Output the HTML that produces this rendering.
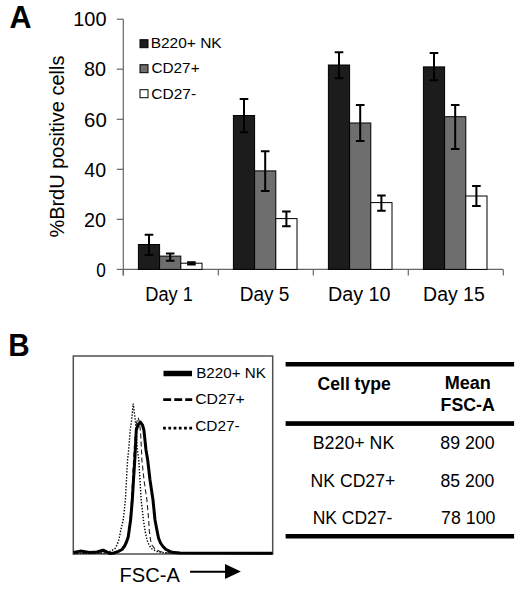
<!DOCTYPE html><html><head><meta charset="utf-8"><style>html,body{margin:0;padding:0;background:#fff;}svg{display:block;}text{font-family:"Liberation Sans",sans-serif;fill:#000;}</style></head><body>
<svg width="520" height="589" viewBox="0 0 520 589">
<rect x="0" y="0" width="520" height="589" fill="#fff"/>
<text x="9.5" y="27.8" font-size="30.5" font-weight="bold">A</text>
<line x1="123.3" y1="19.2" x2="123.3" y2="275.6" stroke="#666" stroke-width="1.2"/>
<line x1="116.8" y1="269.4" x2="123.3" y2="269.4" stroke="#666" stroke-width="1.2"/>
<line x1="116.8" y1="219.4" x2="123.3" y2="219.4" stroke="#666" stroke-width="1.2"/>
<line x1="116.8" y1="169.3" x2="123.3" y2="169.3" stroke="#666" stroke-width="1.2"/>
<line x1="116.8" y1="119.3" x2="123.3" y2="119.3" stroke="#666" stroke-width="1.2"/>
<line x1="116.8" y1="69.2" x2="123.3" y2="69.2" stroke="#666" stroke-width="1.2"/>
<line x1="116.8" y1="19.2" x2="123.3" y2="19.2" stroke="#666" stroke-width="1.2"/>
<line x1="123.3" y1="269.4" x2="503.3" y2="269.4" stroke="#666" stroke-width="1.2"/>
<line x1="123.3" y1="269.4" x2="123.3" y2="275.6" stroke="#666" stroke-width="1.2"/>
<line x1="218.3" y1="269.4" x2="218.3" y2="275.6" stroke="#666" stroke-width="1.2"/>
<line x1="313.3" y1="269.4" x2="313.3" y2="275.6" stroke="#666" stroke-width="1.2"/>
<line x1="408.3" y1="269.4" x2="408.3" y2="275.6" stroke="#666" stroke-width="1.2"/>
<line x1="503.3" y1="269.4" x2="503.3" y2="275.6" stroke="#666" stroke-width="1.2"/>
<text transform="translate(64.2,146.6) rotate(-90)" font-size="19.3" text-anchor="middle" textLength="182" lengthAdjust="spacingAndGlyphs">%BrdU positive cells</text>
<rect x="138.40" y="244.5" width="21.2" height="24.9" fill="#1c1c1c" stroke="#000" stroke-width="1"/>
<rect x="159.60" y="256.1" width="21.2" height="13.3" fill="#6e6e6e" stroke="#000" stroke-width="1"/>
<rect x="180.80" y="263.2" width="21.2" height="6.2" fill="#ffffff" stroke="#000" stroke-width="1"/>
<path d="M149.00 234.8V254.9M144.70 234.8H153.30M144.70 254.9H153.30" stroke="#000" stroke-width="2" fill="none"/>
<path d="M170.20 253.5V260.7M165.90 253.5H174.50M165.90 260.7H174.50" stroke="#000" stroke-width="2" fill="none"/>
<path d="M191.40 262.2V264.6M187.10 262.2H195.70M187.10 264.6H195.70" stroke="#000" stroke-width="2" fill="none"/>
<rect x="233.40" y="115.5" width="21.2" height="153.9" fill="#1c1c1c" stroke="#000" stroke-width="1"/>
<rect x="254.60" y="170.9" width="21.2" height="98.5" fill="#6e6e6e" stroke="#000" stroke-width="1"/>
<rect x="275.80" y="218.6" width="21.2" height="50.8" fill="#ffffff" stroke="#000" stroke-width="1"/>
<path d="M244.00 98.9V132.3M239.70 98.9H248.30M239.70 132.3H248.30" stroke="#000" stroke-width="2" fill="none"/>
<path d="M265.20 151.3V191.0M260.90 151.3H269.50M260.90 191.0H269.50" stroke="#000" stroke-width="2" fill="none"/>
<path d="M286.40 211.5V226.2M282.10 211.5H290.70M282.10 226.2H290.70" stroke="#000" stroke-width="2" fill="none"/>
<rect x="328.40" y="65.0" width="21.2" height="204.4" fill="#1c1c1c" stroke="#000" stroke-width="1"/>
<rect x="349.60" y="123.0" width="21.2" height="146.4" fill="#6e6e6e" stroke="#000" stroke-width="1"/>
<rect x="370.80" y="202.6" width="21.2" height="66.8" fill="#ffffff" stroke="#000" stroke-width="1"/>
<path d="M339.00 52.2V78.2M334.70 52.2H343.30M334.70 78.2H343.30" stroke="#000" stroke-width="2" fill="none"/>
<path d="M360.20 104.9V141.0M355.90 104.9H364.50M355.90 141.0H364.50" stroke="#000" stroke-width="2" fill="none"/>
<path d="M381.40 195.4V210.8M377.10 195.4H385.70M377.10 210.8H385.70" stroke="#000" stroke-width="2" fill="none"/>
<rect x="423.40" y="66.9" width="21.2" height="202.5" fill="#1c1c1c" stroke="#000" stroke-width="1"/>
<rect x="444.60" y="116.7" width="21.2" height="152.7" fill="#6e6e6e" stroke="#000" stroke-width="1"/>
<rect x="465.80" y="196.0" width="21.2" height="73.4" fill="#ffffff" stroke="#000" stroke-width="1"/>
<path d="M434.00 53.1V80.3M429.70 53.1H438.30M429.70 80.3H438.30" stroke="#000" stroke-width="2" fill="none"/>
<path d="M455.20 104.9V148.9M450.90 104.9H459.50M450.90 148.9H459.50" stroke="#000" stroke-width="2" fill="none"/>
<path d="M476.40 185.9V205.9M472.10 185.9H480.70M472.10 205.9H480.70" stroke="#000" stroke-width="2" fill="none"/>
<rect x="140" y="39.7" width="8" height="8" fill="#1c1c1c" stroke="#000" stroke-width="1"/>
<rect x="140" y="64.7" width="8" height="8" fill="#6e6e6e" stroke="#000" stroke-width="1"/>
<rect x="140" y="89.7" width="8" height="8" fill="#ffffff" stroke="#000" stroke-width="1"/>
<text x="8.3" y="355.8" font-size="30.6" font-weight="bold" textLength="21.4" lengthAdjust="spacingAndGlyphs">B</text>
<rect x="73.3" y="356" width="199.4" height="198" fill="none" stroke="#505050" stroke-width="1.5"/>
<polyline points="73.5,553.5 105,553 111.5,550.8 115,548.5 117,545 118.8,540 120.8,530 123.2,520 125.4,500 127.6,460 128.6,450 130.2,430 131.7,420 133.2,403.6 135.3,420 136.1,430 137.3,450 138.8,460 141.2,500 143.4,520 144.9,530 147,540 149,545 152,549 157,551.5 165,553 272.5,553.5" fill="none" stroke="#000" stroke-width="1.4" stroke-dasharray="1.4 1.6"/>
<polyline points="73.5,553.5 115,553 122,550 126,544 128.5,535 130,520 131.5,500 133,470 134.5,445 136,425 138.1,417.5 139.5,422 140.5,432 141,440 141.9,460 144,480 146.9,500 148.7,520 149.2,530 150.5,540 152,545 155,549 160,551.5 168,553 272.5,553.5" fill="none" stroke="#222" stroke-width="1.1" stroke-dasharray="5 3"/>
<polyline points="73.5,552.5 80.4,551.1 89.6,552.5 97,552 102.9,550.2 106,551.5 109.8,553.4 114,553 118.4,551.3 122,549.5 124.6,546 126.5,542 128.2,537 129.2,530 130.6,520 132.3,500 133.5,480 134.8,460 135.3,450 136.3,430 138,425 140.4,422 142.5,425 143.9,430 146,450 147.7,460 150,480 153,500 155,520 156.9,530 158.5,538 160.5,543 163,546.5 166,549.5 172,552.3 180,553 272.5,553.2" fill="none" stroke="#000" stroke-width="3" stroke-linejoin="round"/>
<line x1="163.5" y1="373.5" x2="192" y2="373.5" stroke="#000" stroke-width="5.5"/>
<line x1="163.2" y1="399.7" x2="192.2" y2="399.7" stroke="#000" stroke-width="2.8" stroke-dasharray="8 3"/>
<line x1="163.1" y1="428.1" x2="192.1" y2="428.1" stroke="#000" stroke-width="2.8" stroke-dasharray="2.8 2.44"/>
<line x1="190" y1="571.7" x2="227" y2="571.7" stroke="#000" stroke-width="2"/>
<path d="M225 564L240.8 571.6L225 579Z" fill="#000"/>
<rect x="285.6" y="362" width="228.5" height="4.5" fill="#000"/>
<rect x="285.6" y="421.2" width="228.5" height="4.7" fill="#000"/>
<rect x="285.6" y="534" width="228.5" height="4.5" fill="#000"/>
<text x="73.28" y="26.4" font-size="19.8" textLength="33.23" lengthAdjust="spacingAndGlyphs">100</text>
<text x="84.08" y="76.4" font-size="19.8" textLength="22.03" lengthAdjust="spacingAndGlyphs">80</text>
<text x="84.05" y="126.5" font-size="19.8" textLength="22.68" lengthAdjust="spacingAndGlyphs">60</text>
<text x="84.28" y="176.5" font-size="19.8" textLength="21.81" lengthAdjust="spacingAndGlyphs">40</text>
<text x="84.08" y="226.6" font-size="19.8" textLength="22.03" lengthAdjust="spacingAndGlyphs">20</text>
<text x="96.16" y="276.6" font-size="19.8" textLength="9.59" lengthAdjust="spacingAndGlyphs">0</text>
<text x="145.29" y="300.8" font-size="20" textLength="47.66" lengthAdjust="spacingAndGlyphs">Day 1</text>
<text x="239.64" y="300.8" font-size="20" textLength="49.74" lengthAdjust="spacingAndGlyphs">Day 5</text>
<text x="328.04" y="300.8" font-size="20" textLength="62.55" lengthAdjust="spacingAndGlyphs">Day 10</text>
<text x="423.09" y="300.8" font-size="20" textLength="61.68" lengthAdjust="spacingAndGlyphs">Day 15</text>
<text x="150.67" y="48.2" font-size="15" textLength="71.03" lengthAdjust="spacingAndGlyphs">B220+ NK</text>
<text x="151.40" y="73.4" font-size="15" textLength="48.22" lengthAdjust="spacingAndGlyphs">CD27+</text>
<text x="151.37" y="99.1" font-size="15" textLength="44.80" lengthAdjust="spacingAndGlyphs">CD27-</text>
<text x="196.20" y="378.1" font-size="15" textLength="69.61" lengthAdjust="spacingAndGlyphs">B220+ NK</text>
<text x="195.15" y="404" font-size="15" textLength="49.68" lengthAdjust="spacingAndGlyphs">CD27+</text>
<text x="195.17" y="431.2" font-size="15" textLength="44.61" lengthAdjust="spacingAndGlyphs">CD27-</text>
<text x="119.52" y="582.2" font-size="20" textLength="60.29" lengthAdjust="spacingAndGlyphs">FSC-A</text>
<text x="317.62" y="389.6" font-size="17.5" font-weight="bold" textLength="73.05" lengthAdjust="spacingAndGlyphs">Cell type</text>
<text x="444.69" y="389.2" font-size="17.5" font-weight="bold" textLength="46.23" lengthAdjust="spacingAndGlyphs">Mean</text>
<text x="440.57" y="410.8" font-size="17.5" font-weight="bold" textLength="54.20" lengthAdjust="spacingAndGlyphs">FSC-A</text>
<text x="312.76" y="448.5" font-size="17.5" textLength="81.53" lengthAdjust="spacingAndGlyphs">B220+ NK</text>
<text x="440.34" y="448.5" font-size="17.5" textLength="54.26" lengthAdjust="spacingAndGlyphs">89 200</text>
<text x="310.63" y="486.5" font-size="17.5" textLength="84.56" lengthAdjust="spacingAndGlyphs">NK CD27+</text>
<text x="440.54" y="486.5" font-size="17.5" textLength="53.86" lengthAdjust="spacingAndGlyphs">85 200</text>
<text x="312.63" y="523.5" font-size="17.5" textLength="79.67" lengthAdjust="spacingAndGlyphs">NK CD27-</text>
<text x="441.13" y="523.5" font-size="17.5" textLength="54.27" lengthAdjust="spacingAndGlyphs">78 100</text>
</svg></body></html>
